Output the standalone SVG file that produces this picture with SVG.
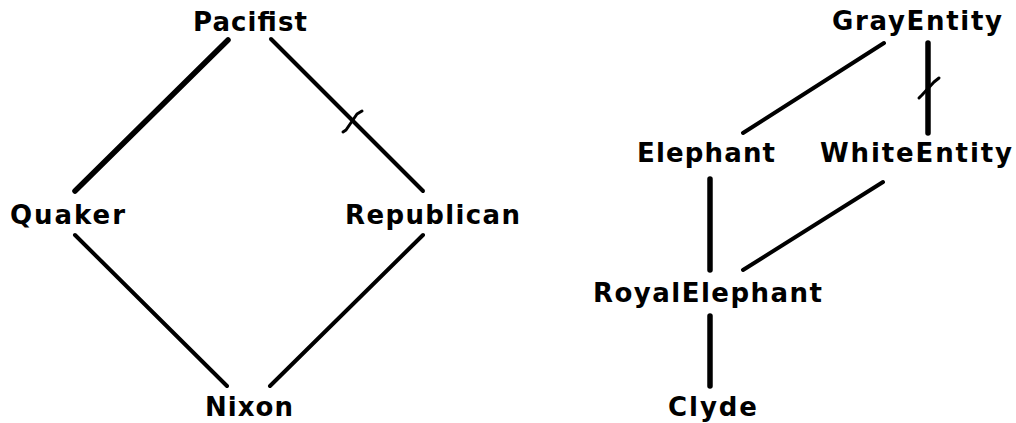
<svg xmlns="http://www.w3.org/2000/svg" width="1016" height="423" viewBox="0 0 1016 423">
<style>
text{font-family:"DejaVu Sans","Liberation Sans",sans-serif;font-size:26px;font-weight:bold;fill:#000}
.e{stroke:#000;stroke-linecap:round;fill:none}
.thick{stroke-width:5.5}
.thin{stroke-width:4}
.tick{stroke:#000;stroke-width:3;fill:none;stroke-linecap:round;stroke-linejoin:round}
</style>
<rect width="1016" height="423" fill="#fff"/>
<g id="connectors">
<line class="e thick" x1="228" y1="40" x2="75" y2="191"/>
<line class="e thin" x1="271" y1="39" x2="423" y2="191"/>
<path class="tick" d="M343,132 L346,130 L357,114 L362,111"/>
<line class="e thin" x1="75" y1="235" x2="227" y2="386"/>
<line class="e thin" x1="423" y1="235" x2="270" y2="386"/>
<line class="e thin" x1="884" y1="43" x2="743" y2="133"/>
<line class="e thick" x1="928" y1="43" x2="928" y2="133"/>
<path class="tick" d="M919,98 L922,95 L934,82 L939,78"/>
<line class="e thick" x1="710" y1="179" x2="710" y2="270"/>
<line class="e thin" x1="883" y1="182" x2="743" y2="270"/>
<line class="e thick" x1="710" y1="316" x2="710" y2="386"/>
</g>
<g id="node-pacifist"><text x="193" y="31" textLength="114" lengthAdjust="spacing">Pacifist</text></g>
<g id="node-quaker"><text x="10" y="224" textLength="115" lengthAdjust="spacing">Quaker</text></g>
<g id="node-republican"><text x="345" y="224" textLength="175" lengthAdjust="spacing">Republican</text></g>
<g id="node-nixon"><text x="205" y="416" textLength="88" lengthAdjust="spacing">Nixon</text></g>
<g id="node-grayentity"><text x="832" y="30" textLength="170" lengthAdjust="spacing">GrayEntity</text></g>
<g id="node-elephant"><text x="637" y="162" textLength="138" lengthAdjust="spacing">Elephant</text></g>
<g id="node-whiteentity"><text x="820" y="162" textLength="192" lengthAdjust="spacing">WhiteEntity</text></g>
<g id="node-royalelephant"><text x="593" y="302" textLength="229" lengthAdjust="spacing">RoyalElephant</text></g>
<g id="node-clyde"><text x="668" y="416" textLength="89" lengthAdjust="spacing">Clyde</text></g>
</svg>
